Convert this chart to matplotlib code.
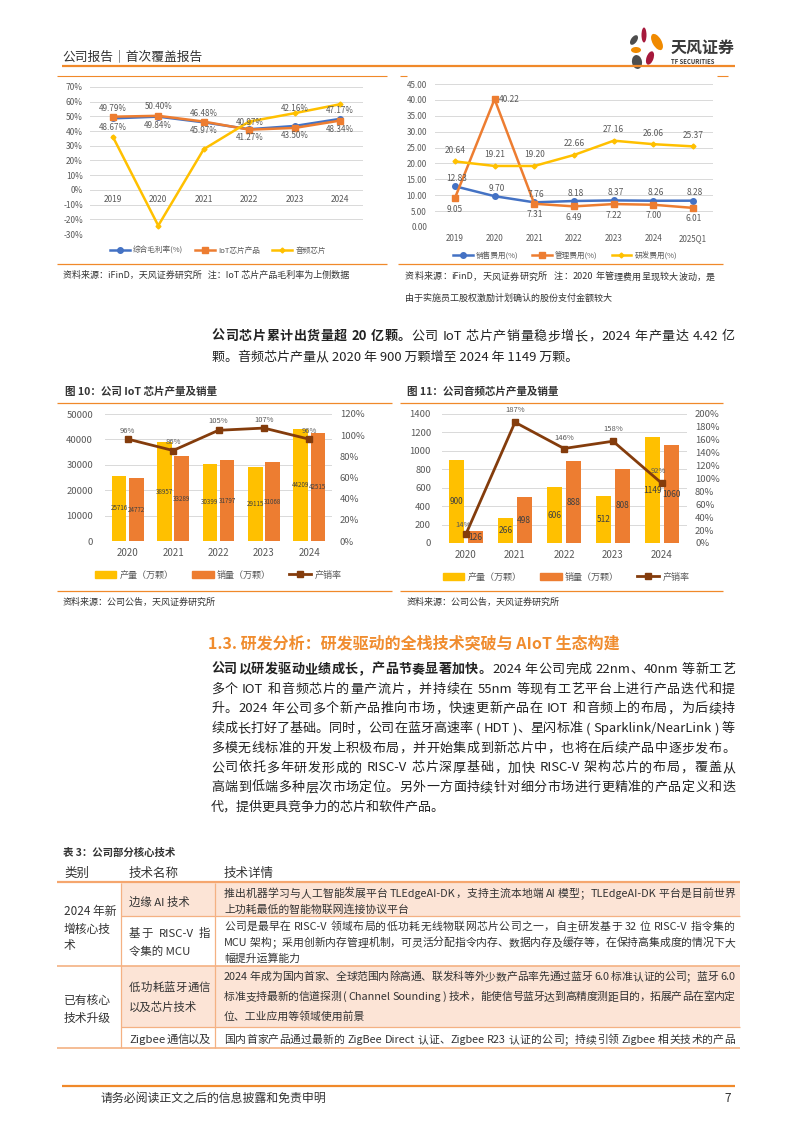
import matplotlib
matplotlib.use('Agg')
import matplotlib.pyplot as plt
import numpy as np
from matplotlib.font_manager import FontProperties
from matplotlib.lines import Line2D
from matplotlib.patches import Patch, Rectangle, Ellipse

FAM = ['Noto Sans CJK SC', 'DejaVu Sans']
plt.rcParams['font.family'] = FAM
plt.rcParams['axes.unicode_minus'] = False

# ---------------- data ----------------
years_margin = ['2019', '2020', '2021', '2022', '2023', '2024']
gross_margin = [48.67, 49.84, 45.97, 41.27, 43.50, 48.34]
iot_margin = [49.79, 50.40, 46.48, 40.97, 42.16, 47.17]
audio_margin = [36.3, -24.3, 27.7, 46.5, 52.2, 58.3]

years_exp = ['2019', '2020', '2021', '2022', '2023', '2024', '2025Q1']
sales_exp = [12.83, 9.70, 7.76, 8.18, 8.37, 8.26, 8.28]
admin_exp = [9.05, 40.22, 7.31, 6.49, 7.22, 7.00, 6.01]
rd_exp = [20.64, 19.21, 19.20, 22.66, 27.16, 26.06, 25.37]

years_prod = ['2020', '2021', '2022', '2023', '2024']
iot_output = [25716, 38957, 30399, 29115, 44209]
iot_sales = [24772, 33289, 31797, 31068, 42515]
iot_rate = [96.3, 85.5, 104.6, 106.7, 96.2]
audio_output = [900, 266, 606, 512, 1149]
audio_sales = [126, 498, 888, 808, 1060]
audio_rate = [14.0, 187.2, 146.5, 157.8, 92.3]

# ---------------- colours ----------------
BLUE = '#4472C4'
ORG = '#ED7D31'
YEL = '#FFC000'
BROWN = '#843C0C'
GRID = '#D9D9D9'
TICK = '#595959'
RULE = '#F0892A'
HEAD = '#F08C2E'
PINK = '#FCE4D6'
TLINE = '#F4B183'
TXT = '#222222'

W, H = 794, 1123
fig = plt.figure(figsize=(W / 100, H / 100), dpi=100)
page = fig.add_axes([0, 0, 1, 1])
page.set_xlim(0, W)
page.set_ylim(H, 0)
page.axis('off')
renderer = fig.canvas.get_renderer()


def rect(x0, y0, x1, y1):
    return [x0 / W, 1 - y1 / H, (x1 - x0) / W, (y1 - y0) / H]


def fxy(x, y):
    return (x / W, 1 - y / H)


def px(v):
    # pixels -> points
    return v * 0.72


_wcache = {}


def tok_width(t, size, bold):
    key = (t, size, bold)
    if key not in _wcache:
        fp = FontProperties(family=FAM, size=size, weight='bold' if bold else 'normal')
        w1 = renderer.get_text_width_height_descent('x' + t + 'x', fp, False)[0]
        w0 = renderer.get_text_width_height_descent('xx', fp, False)[0]
        _wcache[key] = w1 - w0
    return _wcache[key]


def tokens(s):
    out, run = [], ''
    for ch in s:
        if ch == ' ':
            if run:
                out.append(run)
                run = ''
            out.append(' ')
        elif ord(ch) < 128:
            run += ch
        else:
            if run:
                out.append(run)
                run = ''
            out.append(ch)
    if run:
        out.append(run)
    return out


def jline(x0, x1, yc, segs, size, color=TXT, justify=True):
    """draw one (optionally justified) line of mixed bold/regular text"""
    base = yc + 0.38 * size * 100 / 72
    if not justify and len(segs) == 1:
        s, b = segs[0]
        page.text(x0, base, s, fontsize=size, fontweight='bold' if b else 'normal',
                  color=color, ha='left', va='baseline')
        return
    items = []
    for s, b in segs:
        for t in tokens(s):
            items.append((t, b, tok_width(t, size, b)))
    total = sum(w for _, _, w in items)
    gap = (x1 - x0 - total) / (len(items) - 1) if justify and len(items) > 1 else 0
    x = x0
    for t, b, w in items:
        if t != ' ':
            page.text(x, base, t, fontsize=size, fontweight='bold' if b else 'normal',
                      color=color, ha='left', va='baseline')
        x += w + gap


def style(ax):
    for s in ax.spines.values():
        s.set_visible(False)
    ax.grid(axis='y', color=GRID, lw=0.7)
    ax.set_axisbelow(True)
    ax.tick_params(length=0, colors=TICK)


# ---------------- page header ----------------
page.text(62, 57, '公司报告｜首次覆盖报告', fontsize=9.2, color='#333333', va='center')
page.hlines(66, 62, 735, color=RULE, lw=1.6)
page.hlines(76, 57, 387, color=RULE, lw=0.8)
page.hlines(76, 400, 407, color=RULE, lw=0.8)
page.hlines(76, 717, 728, color=RULE, lw=0.8)

# logo petals
for (cx, cy, w, h, ang, c) in [(644, 35, 5, 15, 0, '#A6193C'), (634, 40, 6, 11, 35, '#4D4D4D'),
                               (657, 42, 9, 18, -30, '#F08A00'), (636, 50, 10, 6, 0, '#F08A00'),
                               (650, 58, 7, 14, 20, '#A6193C'), (637, 62, 10, 14, -10, '#4D4D4D')]:
    page.add_patch(Ellipse((cx, cy), w, h, angle=ang, color=c, lw=0))
page.text(671, 48, '天风证券', fontsize=11.5, fontweight='bold', color='#3A3A3A', va='center')
page.text(671, 62, 'TF SECURITIES', fontsize=4.3, fontweight='bold', color='#3A3A3A', va='center')

# ---------------- chart 1: gross margin ----------------
ax1 = fig.add_axes(rect(90, 87, 363, 234))
style(ax1)
x6 = np.arange(len(years_margin))
ax1.set_xlim(-0.5, 5.5)
ax1.set_ylim(-30, 70)
ax1.set_yticks(range(-30, 71, 10))
ax1.set_yticklabels([f'{v}%' for v in range(-30, 71, 10)])
ax1.set_xticks([])
ax1.tick_params(axis='y', labelsize=6, pad=px(7))
ax1.plot(x6, gross_margin, color=BLUE, marker='o', ms=4, lw=1.8)
ax1.plot(x6, iot_margin, color=ORG, marker='s', ms=4, lw=1.8)
ax1.plot(x6, audio_margin, color=YEL, marker='D', ms=2.5, lw=1.8)
for i, yr in enumerate(years_margin):
    ax1.text(i, -6.8, yr, ha='center', va='center', fontsize=6, color=TICK)
up_off = [8, 9, 8, 7, 19, 10]
down_off = [9, 9, 8, 8, 10, 11]
for i in range(6):
    ax1.annotate(f'{iot_margin[i]:.2f}%', (i, iot_margin[i]), xytext=(0, px(up_off[i])),
                 textcoords='offset points', ha='center', va='center', fontsize=5.8, color=TICK)
    ax1.annotate(f'{gross_margin[i]:.2f}%', (i, gross_margin[i]), xytext=(0, -px(down_off[i])),
                 textcoords='offset points', ha='center', va='center', fontsize=5.8, color=TICK)
h1 = [Line2D([0], [0], color=BLUE, marker='o', ms=4, lw=1.8),
      Line2D([0], [0], color=ORG, marker='s', ms=4, lw=1.8),
      Line2D([0], [0], color=YEL, marker='D', ms=2.5, lw=1.8)]
fig.legend(h1, ['综合毛利率(%)', 'IoT芯片产品', '音频芯片'], loc='center', bbox_to_anchor=fxy(218, 251),
           ncol=3, frameon=False, fontsize=5.5, labelcolor=TICK, handlelength=2.6,
           handletextpad=0.4, columnspacing=1.6, borderpad=0, borderaxespad=0)
page.hlines(264, 57, 387, color=RULE, lw=0.9)
page.text(63, 275, '资料来源：iFinD，天风证券研究所   注：IoT 芯片产品毛利率为上侧数据', fontsize=6.5,
          color='#333333', va='center')

# ---------------- chart 2: expense ratios ----------------
ax2 = fig.add_axes(rect(435, 84, 713, 227))
style(ax2)
x7 = np.arange(len(years_exp))
ax2.set_xlim(-0.5, 6.5)
ax2.set_ylim(0, 45)
ax2.set_yticks(np.arange(0, 46, 5))
ax2.set_yticklabels([f'{v:.2f}' for v in np.arange(0, 46, 5)])
ax2.set_xticks(x7)
ax2.set_xticklabels(years_exp)
ax2.tick_params(axis='y', labelsize=5.8, pad=px(8))
ax2.tick_params(axis='x', labelsize=5.8, pad=px(7))
ax2.plot(x7, sales_exp, color=BLUE, marker='o', ms=4, lw=1.8)
ax2.plot(x7, admin_exp, color=ORG, marker='s', ms=4, lw=1.8)
ax2.plot(x7, rd_exp, color=YEL, marker='D', ms=2.5, lw=1.8)
for i in range(7):
    ax2.annotate(f'{sales_exp[i]:.2f}', (i, sales_exp[i]), xytext=(px(2), px(8)),
                 textcoords='offset points', ha='center', va='center', fontsize=6, color=TICK)
    ax2.annotate(f'{rd_exp[i]:.2f}', (i, rd_exp[i]), xytext=(0, px(11)),
                 textcoords='offset points', ha='center', va='center', fontsize=6, color=TICK)
    if i == 1:
        ax2.annotate(f'{admin_exp[i]:.2f}', (i, admin_exp[i]), xytext=(px(4), 0),
                     textcoords='offset points', ha='left', va='center', fontsize=6, color=TICK)
    else:
        ax2.annotate(f'{admin_exp[i]:.2f}', (i, admin_exp[i]), xytext=(0, -px(11)),
                     textcoords='offset points', ha='center', va='center', fontsize=6, color=TICK)
fig.legend(h1, ['销售费用(%)', '管理费用(%)', '研发费用(%)'], loc='center', bbox_to_anchor=fxy(565, 256),
           ncol=3, frameon=False, fontsize=5.5, labelcolor=TICK, handlelength=2.6,
           handletextpad=0.4, columnspacing=1.8, borderpad=0, borderaxespad=0)
page.hlines(264, 398, 723, color=RULE, lw=0.9)
jline(405, 715, 276, [('资料来源：iFinD，天风证券研究所   注：2020 年管理费用呈现较大波动，是', False)], 6.5,
      color='#333333')
jline(405, 715, 297, [('由于实施员工股权激励计划确认的股份支付金额较大', False)], 6.5, color='#333333',
      justify=False)

# ---------------- paragraph ----------------
jline(212, 735, 335, [('公司芯片累计出货量超 20 亿颗。', True),
                      ('公司 IoT 芯片产销量稳步增长，2024 年产量达 4.42 亿', False)], 9.4)
jline(212, 735, 355, [('颗。音频芯片产量从 2020 年 900 万颗增至 2024 年 1149 万颗。', False)], 9.4,
      justify=False)

# ---------------- chart 3 / 4: production & sales ----------------
x5 = np.arange(len(years_prod))
bar_legend = [Patch(color=YEL), Patch(color=ORG),
              Line2D([0], [0], color=BROWN, marker='s', ms=4, lw=2)]
bar_names = ['产量（万颗）', '销量（万颗）', '产销率']


def prod_chart(box, out, sold, rate, ymax, ystep, rmax, lpad, rpad, bw, blab_size, lab_off, leg_xy):
    ax = fig.add_axes(rect(*box))
    style(ax)
    ax.set_xlim(-0.5, 4.5)
    ax.set_ylim(0, ymax)
    ax.set_yticks(np.arange(0, ymax + 1, ystep))
    ax.set_xticks(x5)
    ax.set_xticklabels(years_prod)
    ax.tick_params(axis='y', labelsize=6.8, pad=px(lpad))
    ax.tick_params(axis='x', labelsize=7, pad=px(7))
    b1 = ax.bar(x5 - 0.19, out, width=bw, color=YEL)
    b2 = ax.bar(x5 + 0.19, sold, width=bw, color=ORG)
    ax.bar_label(b1, label_type='center', fontsize=blab_size, color='#404040')
    ax.bar_label(b2, label_type='center', fontsize=blab_size, color='#404040')
    axr = ax.twinx()
    for s in axr.spines.values():
        s.set_visible(False)
    axr.set_ylim(0, rmax)
    axr.set_yticks(np.arange(0, rmax + 1, 20))
    axr.set_yticklabels([f'{v}%' for v in range(0, rmax + 1, 20)])
    axr.tick_params(length=0, colors=TICK, labelsize=6.8, pad=px(rpad))
    axr.plot(x5, rate, color=BROWN, marker='s', ms=4, lw=2)
    for i, v in enumerate(rate):
        dx, dy = lab_off[i]
        axr.annotate(f'{v:.0f}%', (i, v), xytext=(px(dx), px(dy)), textcoords='offset points',
                     ha='center', va='center', fontsize=5.5, color=TICK)
    fig.legend(bar_legend, bar_names, loc='center', bbox_to_anchor=fxy(*leg_xy), ncol=3,
               frameon=False, fontsize=6.5, labelcolor=TICK, handlelength=2.4,
               handletextpad=0.4, columnspacing=2.0, borderpad=0, borderaxespad=0)
    return ax


prod_chart((105, 414, 332, 541), iot_output, iot_sales, iot_rate, 50000, 10000, 120, 12, 8, 0.32, 4.5,
           [(0, 8), (0, 9), (0, 9), (0, 8), (0, 8)], (218, 575))
prod_chart((441.5, 414, 686.5, 543), audio_output, audio_sales, audio_rate, 1400, 200, 200, 10.5, 8.5,
           0.3, 6, [(-3, 9), (0, 12), (0, 11), (0, 12), (-4, 12)], (566, 577))

page.text(65, 392, '图 10：公司 IoT 芯片产量及销量', fontsize=7.6, fontweight='bold', color='#333333',
          va='center')
page.text(407, 392, '图 11：公司音频芯片产量及销量', fontsize=7.6, fontweight='bold', color='#333333',
          va='center')
for y in (403, 591):
    page.hlines(y, 57, 392, color=RULE, lw=0.9)
    page.hlines(y, 400, 723, color=RULE, lw=0.9)
page.text(63, 602, '资料来源：公司公告，天风证券研究所', fontsize=6.5, color='#333333', va='center')
page.text(407, 602, '资料来源：公司公告，天风证券研究所', fontsize=6.5, color='#333333', va='center')

# ---------------- section 1.3 ----------------
page.text(208, 643, '1.3. 研发分析：研发驱动的全栈技术突破与 AIoT 生态构建', fontsize=11.5,
          fontweight='bold', color=HEAD, va='center')

body_lines = [
    [('公司以研发驱动业绩成长，产品节奏显著加快。', True), ('2024 年公司完成 22nm、40nm 等新工艺', False)],
    [('多个 IOT 和音频芯片的量产流片，并持续在 55nm 等现有工艺平台上进行产品迭代和提', False)],
    [('升。2024 年公司多个新产品推向市场，快速更新产品在 IOT 和音频上的布局，为后续持', False)],
    [('续成长打好了基础。同时，公司在蓝牙高速率 ( HDT )、星闪标准 ( Sparklink/NearLink ) 等', False)],
    [('多模无线标准的开发上积极布局，并开始集成到新芯片中，也将在后续产品中逐步发布。', False)],
    [('公司依托多年研发形成的 RISC-V 芯片深厚基础，加快 RISC-V 架构芯片的布局，覆盖从', False)],
    [('高端到低端多种层次市场定位。另外一方面持续针对细分市场进行更精准的产品定义和迭', False)],
    [('代，提供更具竞争力的芯片和软件产品。', False)],
]
for k, segs in enumerate(body_lines):
    jline(211, 735, 668 + k * 19.7, segs, 9.4, justify=(k < len(body_lines) - 1))

# ---------------- table 3 ----------------
page.text(63, 853, '表 3：公司部分核心技术', fontsize=7.5, fontweight='bold', color='#333333', va='center')
for txt, xx in [('类别', 64), ('技术名称', 129), ('技术详情', 224)]:
    page.text(xx, 873, txt, fontsize=9, color='#333333', va='center')

page.add_patch(Rectangle((121, 883), 619, 33, color=PINK, lw=0))
page.add_patch(Rectangle((121, 966), 619, 61, color=PINK, lw=0))
page.hlines(882, 57, 740, color='#F5A66E', lw=1.6)
page.hlines([966, 1048], 57, 740, color=TLINE, lw=1.2)
page.hlines([916, 1027], 121, 740, color=TLINE, lw=0.9)
page.vlines([121, 215], 883, 1048, color=TLINE, lw=0.9)

TS = 7.8
TC = '#333333'
# column 1
for txt, y in [('2024 年新', 911), ('增核心技', 928), ('术', 945), ('已有核心', 999), ('技术升级', 1017)]:
    jline(64, 115, y, [(txt, False)], 8.5, color=TC, justify=False)
# column 2
jline(129, 210, 901, [('边缘 AI 技术', False)], 8.2, color=TC, justify=False)
jline(129, 210, 933, [('基于 RISC-V 指', False)], 8.2, color=TC)
jline(129, 210, 950, [('令集的 MCU', False)], 8.2, color=TC, justify=False)
jline(129, 210, 987, [('低功耗蓝牙通信', False)], 8.2, color=TC)
jline(129, 210, 1007, [('以及芯片技术', False)], 8.2, color=TC, justify=False)
jline(129, 210, 1039, [('Zigbee 通信以及', False)], 8.2, color=TC)
# column 3
detail = [
    ('推出机器学习与人工智能发展平台 TLEdgeAI-DK，支持主流本地端 AI 模型；TLEdgeAI-DK 平台是目前世界', 892.5, True),
    ('上功耗最低的智能物联网连接协议平台', 908.5, False),
    ('公司是最早在 RISC-V 领域布局的低功耗无线物联网芯片公司之一，自主研发基于 32 位 RISC-V 指令集的', 926, True),
    ('MCU 架构；采用创新内存管理机制，可灵活分配指令内存、数据内存及缓存等，在保持高集成度的情况下大', 942, True),
    ('幅提升运算能力', 958, False),
    ('2024 年成为国内首家、全球范围内除高通、联发科等外少数产品率先通过蓝牙 6.0 标准认证的公司；蓝牙 6.0', 976, True),
    ('标准支持最新的信道探测 ( Channel Sounding ) 技术，能使信号蓝牙达到高精度测距目的，拓展产品在室内定', 996, True),
    ('位、工业应用等领域使用前景', 1016, False),
    ('国内首家产品通过最新的 ZigBee Direct 认证、Zigbee R23 认证的公司；持续引领 Zigbee 相关技术的产品', 1039, True),
]
for txt, y, j in detail:
    jline(224, 735, y, [(txt, False)], TS, color=TC, justify=j)

# ---------------- footer ----------------
page.hlines(1086, 62, 735, color=RULE, lw=1.6)
page.text(101, 1098, '请务必阅读正文之后的信息披露和免责申明', fontsize=8.6, color='#333333', va='center')
page.text(731, 1098, '7', fontsize=8.6, color='#333333', va='center', ha='right')

fig.savefig('out.png', dpi=100)
